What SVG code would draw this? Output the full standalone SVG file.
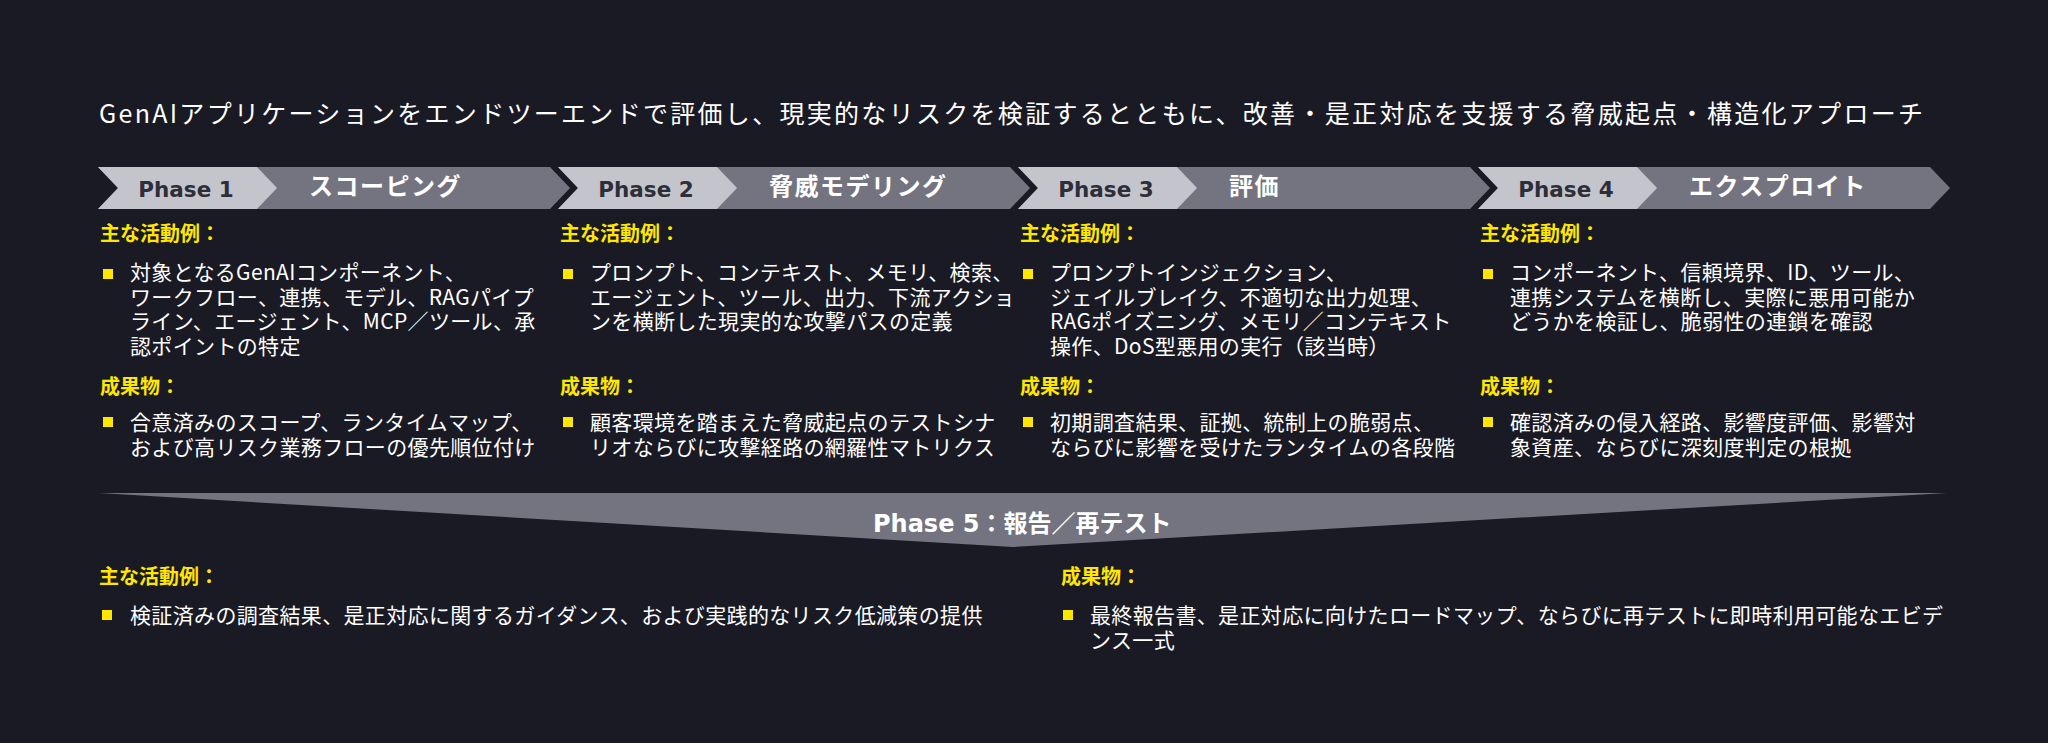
<svg xmlns="http://www.w3.org/2000/svg" width="2048" height="743" viewBox="0 0 2048 743">
<style>
.bg{fill:#1a1a24}
.dark{fill:#747480}
.light{fill:#c4c4cd}
.bul{fill:#ffe600}
.title{font-family:"Noto Sans CJK JP","Noto Sans",sans-serif;font-size:25px;fill:#ffffff;letter-spacing:2.3px}
.ph{font-family:"DejaVu Sans","Noto Sans",sans-serif;font-weight:700;font-size:21.5px;fill:#2e2e38;text-anchor:middle}
.pt{font-family:"Noto Sans CJK JP","Noto Sans",sans-serif;font-weight:700;font-size:24px;fill:#ffffff;letter-spacing:1.5px}
.lbl{font-family:"Noto Sans CJK JP","Noto Sans",sans-serif;font-weight:700;font-size:20px;fill:#ffe600}
.txt{font-family:"Noto Sans CJK JP","Noto Sans",sans-serif;font-size:21px;fill:#ffffff;letter-spacing:0.35px}
.p5{font-family:"Noto Sans CJK JP","Noto Sans",sans-serif;font-weight:700;font-size:24px;fill:#ffffff}
</style>
<defs>
<polygon id="chevDark" points="0,167 452,167 472,188 452,209 0,209 20,188"/>
<polygon id="chevLight" points="0,167 159,167 179,188 159,209 0,209 20,188"/>
<rect id="sq" width="10" height="10"/>
</defs>
<rect class="bg" x="0" y="0" width="2048" height="743"/>
<text id="title" class="title" x="99" y="123">GenAIアプリケーションをエンドツーエンドで評価し、現実的なリスクを検証するとともに、改善・是正対応を支援する脅威起点・構造化アプローチ</text>

<g id="phase1" transform="translate(98,0)">
<use href="#chevDark" class="dark"/>
<use href="#chevLight" class="light"/>
<text class="ph" x="88" y="197">Phase 1</text>
<text class="pt" x="211" y="195">スコーピング</text>
<text class="lbl" x="2" y="241">主な活動例：</text>
<use href="#sq" class="bul" x="5" y="269"/>
<text class="txt"><tspan x="32" y="280">対象となるGenAIコンポーネント、</tspan><tspan x="32" y="304.5">ワークフロー、連携、モデル、RAGパイプ</tspan><tspan x="32" y="329">ライン、エージェント、MCP／ツール、承</tspan><tspan x="32" y="353.5">認ポイントの特定</tspan></text>
<text class="lbl" x="2" y="394">成果物：</text>
<use href="#sq" class="bul" x="5" y="417"/>
<text class="txt"><tspan x="32" y="430">合意済みのスコープ、ランタイムマップ、</tspan><tspan x="32" y="455">および高リスク業務フローの優先順位付け</tspan></text>
</g>

<g id="phase2" transform="translate(558,0)">
<use href="#chevDark" class="dark"/>
<use href="#chevLight" class="light"/>
<text class="ph" x="88" y="197">Phase 2</text>
<text class="pt" x="211" y="195">脅威モデリング</text>
<text class="lbl" x="2" y="241">主な活動例：</text>
<use href="#sq" class="bul" x="5" y="269"/>
<text class="txt"><tspan x="32" y="280">プロンプト、コンテキスト、メモリ、検索、</tspan><tspan x="32" y="304.5">エージェント、ツール、出力、下流アクショ</tspan><tspan x="32" y="329">ンを横断した現実的な攻撃パスの定義</tspan></text>
<text class="lbl" x="2" y="394">成果物：</text>
<use href="#sq" class="bul" x="5" y="417"/>
<text class="txt"><tspan x="32" y="430">顧客環境を踏まえた脅威起点のテストシナ</tspan><tspan x="32" y="455">リオならびに攻撃経路の網羅性マトリクス</tspan></text>
</g>

<g id="phase3" transform="translate(1018,0)">
<use href="#chevDark" class="dark"/>
<use href="#chevLight" class="light"/>
<text class="ph" x="88" y="197">Phase 3</text>
<text class="pt" x="211" y="195">評価</text>
<text class="lbl" x="2" y="241">主な活動例：</text>
<use href="#sq" class="bul" x="5" y="269"/>
<text class="txt"><tspan x="32" y="280">プロンプトインジェクション、</tspan><tspan x="32" y="304.5">ジェイルブレイク、不適切な出力処理、</tspan><tspan x="32" y="329">RAGポイズニング、メモリ／コンテキスト</tspan><tspan x="32" y="353.5">操作、DoS型悪用の実行（該当時）</tspan></text>
<text class="lbl" x="2" y="394">成果物：</text>
<use href="#sq" class="bul" x="5" y="417"/>
<text class="txt"><tspan x="32" y="430">初期調査結果、証拠、統制上の脆弱点、</tspan><tspan x="32" y="455">ならびに影響を受けたランタイムの各段階</tspan></text>
</g>

<g id="phase4" transform="translate(1478,0)">
<use href="#chevDark" class="dark"/>
<use href="#chevLight" class="light"/>
<text class="ph" x="88" y="197">Phase 4</text>
<text class="pt" x="211" y="195">エクスプロイト</text>
<text class="lbl" x="2" y="241">主な活動例：</text>
<use href="#sq" class="bul" x="5" y="269"/>
<text class="txt"><tspan x="32" y="280">コンポーネント、信頼境界、ID、ツール、</tspan><tspan x="32" y="304.5">連携システムを横断し、実際に悪用可能か</tspan><tspan x="32" y="329">どうかを検証し、脆弱性の連鎖を確認</tspan></text>
<text class="lbl" x="2" y="394">成果物：</text>
<use href="#sq" class="bul" x="5" y="417"/>
<text class="txt"><tspan x="32" y="430">確認済みの侵入経路、影響度評価、影響対</tspan><tspan x="32" y="455">象資産、ならびに深刻度判定の根拠</tspan></text>
</g>

<g id="phase5">
<polygon class="dark" points="99,493 1947,493 1013,547"/>
<text class="p5" x="873" y="532"><tspan font-family="DejaVu Sans">Phase 5</tspan>：報告／再テスト</text>
<text class="lbl" x="99" y="584">主な活動例：</text>
<use href="#sq" class="bul" x="102" y="610"/>
<text class="txt" x="130" y="623">検証済みの調査結果、是正対応に関するガイダンス、および実践的なリスク低減策の提供</text>
<text class="lbl" x="1061" y="584">成果物：</text>
<use href="#sq" class="bul" x="1063" y="610"/>
<text class="txt"><tspan x="1090" y="623">最終報告書、是正対応に向けたロードマップ、ならびに再テストに即時利用可能なエビデ</tspan><tspan x="1090" y="648">ンス一式</tspan></text>
</g>

<g id="connectors"/>
</svg>
